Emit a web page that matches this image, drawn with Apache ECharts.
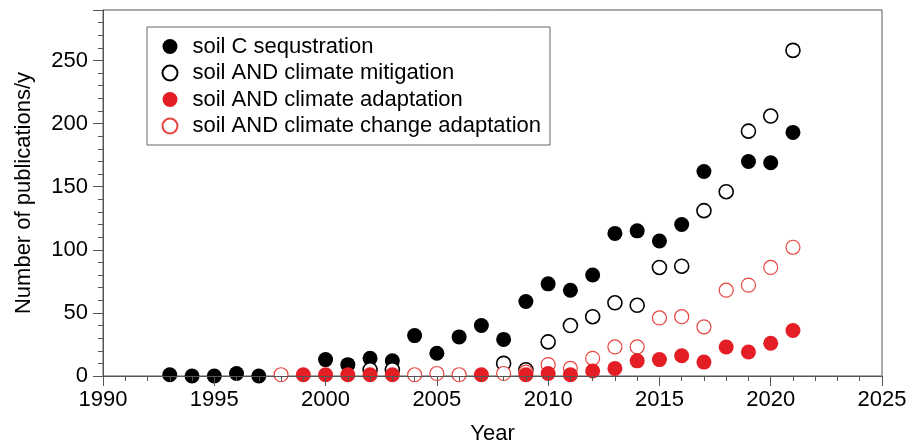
<!DOCTYPE html>
<html>
<head>
<meta charset="utf-8">
<script src="https://cdn.jsdelivr.net/npm/echarts@6/dist/echarts.min.js"></script>
<style>
html,body{margin:0;padding:0;background:#fff;}
#chart{width:918px;height:445px;}
</style>
</head>
<body>
<div id="chart"></div>
<script>
const years = [1993,1994,1995,1996,1997,1998,1999,2000,2001,2002,2003,2004,2005,2006,2007,2008,2009,2010,2011,2012,2013,2014,2015,2016,2017,2018,2019,2020,2021];
const soilCSeq     = [1,0,0,2,0,null,null,13,9,14,12,32,18,31,40,29,59,73,68,80,113,115,107,120,162,null,170,169,193];
const climMitig    = [null,null,null,null,null,null,null,null,null,5,5,null,null,null,null,10,5,27,40,47,58,56,86,87,131,146,194,206,258];
const climAdapt    = [null,null,null,null,null,null,1,1,1,1,1,null,null,null,1,null,1,2,1,4,6,12,13,16,11,23,19,26,36];
const climChAdapt  = [null,null,null,null,null,1,null,null,null,null,null,1,2,1,null,2,3,9,6,14,23,23,46,47,39,68,72,86,102];
const seriesNames = ['soil C sequstration','soil AND climate mitigation','soil AND climate adaptation','soil AND climate change adaptation'];
const xTicks = [1990,1995,2000,2005,2010,2015,2020,2025];

function pairs(vals){
  const out=[];
  vals.forEach((v,i)=>{ if(v!==null) out.push([years[i],v]); });
  return out;
}
const FONT = 'Liberation Sans, Arial, Helvetica, sans-serif';
const RED = '#e31e24';

const chart = echarts.init(document.getElementById('chart'));
chart.setOption({
  animation:false,
  backgroundColor:'#fff',
  grid:{left:103,right:36,top:10,bottom:69,outerBoundsMode:'none',containLabel:false,show:true,borderColor:'#555',borderWidth:1},
  legend:{
    data:seriesNames,
    orient:'vertical',
    left:147, top:27,
    padding:[8.5,9,8,14.5],
    itemWidth:15,itemHeight:15,itemGap:4.5,
    borderColor:'#666',borderWidth:1,
    backgroundColor:'#fff',
    textStyle:{fontFamily:FONT,fontSize:22,color:'#000',padding:[0,0,0,10]}
  },
  xAxis:{
    type:'value',min:xTicks[0],max:xTicks[xTicks.length-1],interval:5,
    name:'Year',nameLocation:'middle',nameGap:47,
    nameTextStyle:{fontFamily:FONT,fontSize:22,color:'#000'},
    z:5,
    axisLine:{show:true,onZero:false,lineStyle:{color:'#555',width:1}},
    axisTick:{show:true,inside:false,length:10,lineStyle:{color:'#555'}},
    minorTick:{show:true,splitNumber:5,length:5,lineStyle:{color:'#555'}},
    splitLine:{show:false},
    axisLabel:{fontFamily:FONT,fontSize:22,color:'#000',margin:13,formatter:v=>String(v)}
  },
  yAxis:{
    type:'value',min:0,max:290,interval:50,
    name:'Number of publications/y',nameLocation:'middle',nameGap:68,nameRotate:90,
    nameTextStyle:{fontFamily:FONT,fontSize:22,color:'#000'},
    z:5,
    axisLine:{show:true,lineStyle:{color:'#555',width:1}},
    axisTick:{show:true,inside:false,length:10,lineStyle:{color:'#555'}},
    minorTick:{show:true,splitNumber:5,length:5,lineStyle:{color:'#555'}},
    splitLine:{show:false},
    axisLabel:{fontFamily:FONT,fontSize:22,color:'#000',margin:15,showMaxLabel:false}
  },
  series:[
    {name:seriesNames[0],type:'scatter',symbol:'circle',symbolSize:15,z:2,
     itemStyle:{color:'#000',opacity:1},data:pairs(soilCSeq)},
    {name:seriesNames[1],type:'scatter',symbol:'circle',symbolSize:14,z:3,
     itemStyle:{color:'#fff',borderColor:'#000',borderWidth:1.6,opacity:1},data:pairs(climMitig)},
    {name:seriesNames[3],type:'scatter',symbol:'circle',symbolSize:14,z:4,
     itemStyle:{color:'#fff',borderColor:'#e8453f',borderWidth:1.2,opacity:1},data:pairs(climChAdapt)},
    {name:seriesNames[2],type:'scatter',symbol:'circle',symbolSize:15,z:4,
     itemStyle:{color:RED,opacity:1},data:pairs(climAdapt)}
  ]
});
</script>
</body>
</html>
